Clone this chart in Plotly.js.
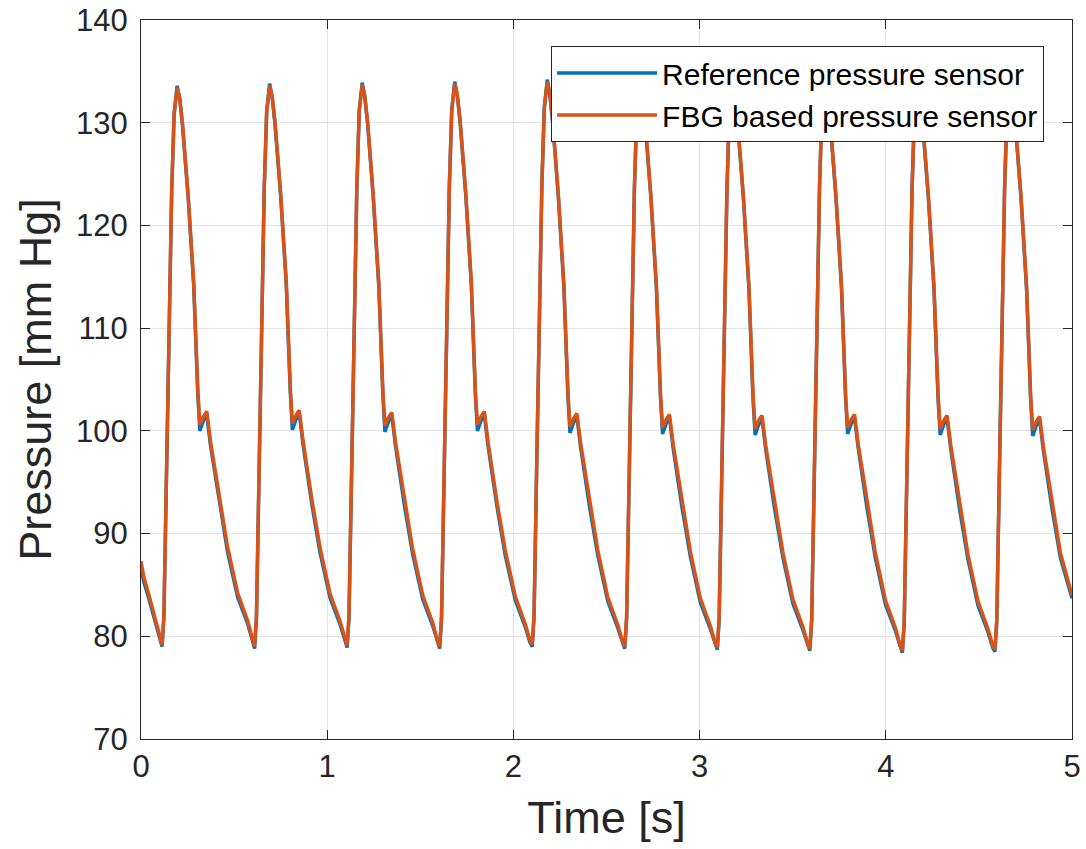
<!DOCTYPE html>
<html>
<head>
<meta charset="utf-8">
<script src="https://cdn.plot.ly/plotly-3.0.1.min.js"></script>
<style>html,body{margin:0;padding:0;background:#fff;}#chart{width:1086px;height:849px;}</style>
</head>
<body>
<div id="chart"></div>
<script>
// Time samples [s], per cycle
const tLead = [0, 0.015, 0.04, 0.07, 0.095];
const tC0 = [0.113,0.123,0.138,0.153,0.165,0.178,0.194,0.208,0.223,0.253,0.283,0.305,0.316,0.335,0.353,0.373,0.420,0.465,0.519,0.573,0.598];
const tC1 = [0.610,0.620,0.635,0.650,0.662,0.675,0.691,0.705,0.720,0.750,0.780,0.802,0.813,0.832,0.850,0.870,0.917,0.962,1.016,1.070,1.095];
const tC2 = [1.107,1.117,1.132,1.147,1.159,1.172,1.188,1.202,1.217,1.247,1.277,1.299,1.310,1.329,1.347,1.367,1.414,1.459,1.513,1.567,1.592];
const tC3 = [1.604,1.614,1.629,1.644,1.656,1.669,1.685,1.699,1.714,1.744,1.774,1.796,1.807,1.826,1.844,1.864,1.911,1.956,2.010,2.064,2.089];
const tC4 = [2.101,2.111,2.126,2.141,2.153,2.166,2.182,2.196,2.211,2.241,2.271,2.293,2.304,2.323,2.341,2.361,2.408,2.453,2.507,2.561,2.586];
const tC5 = [2.598,2.608,2.623,2.638,2.650,2.663,2.679,2.693,2.708,2.738,2.768,2.790,2.801,2.820,2.838,2.858,2.905,2.950,3.004,3.058,3.083];
const tC6 = [3.095,3.105,3.120,3.135,3.147,3.160,3.176,3.190,3.205,3.235,3.265,3.287,3.298,3.317,3.335,3.355,3.402,3.447,3.501,3.555,3.580];
const tC7 = [3.592,3.602,3.617,3.632,3.644,3.657,3.673,3.687,3.702,3.732,3.762,3.784,3.795,3.814,3.832,3.852,3.899,3.944,3.998,4.052,4.077];
const tC8 = [4.089,4.099,4.114,4.129,4.141,4.154,4.170,4.184,4.199,4.229,4.259,4.281,4.292,4.311,4.329,4.349,4.396,4.441,4.495,4.549,4.574];
const tC9 = [4.586,4.596,4.611,4.626,4.638,4.651,4.667,4.681,4.696,4.726,4.756,4.778,4.789,4.808,4.826,4.846,4.893,4.938,5.000];

// Reference pressure sensor [mm Hg]
const refLead = [86.6, 85.3, 83.8, 81.9, 80.1];
const refC0 = [79.0,81.8,97.0,113.0,123.5,130.9,133.6,132.3,129.7,122.8,114.2,103.6,100.0,101.0,101.6,98.6,93.0,88.2,83.8,81.2,79.6];
const refC1 = [78.8,81.7,97.3,113.3,123.7,131.1,133.8,132.4,129.8,122.9,114.3,103.7,100.1,101.1,101.7,98.7,92.9,88.1,83.7,81.1,79.5];
const refC2 = [78.9,81.8,97.1,113.2,123.6,131.2,133.9,132.5,129.9,122.8,114.1,103.5,99.9,100.9,101.5,98.5,92.8,88.0,83.6,81.0,79.4];
const refC3 = [78.8,81.7,97.2,113.4,123.8,131.3,134.0,132.6,130.0,123.0,114.2,103.4,100.0,101.0,101.6,98.5,92.7,87.9,83.5,80.9,79.4];
const refC4 = [79.0,81.9,97.5,113.7,124.0,131.5,134.2,132.7,130.0,122.9,114.0,103.3,99.8,100.8,101.4,98.4,92.7,87.9,83.4,80.8,79.3];
const refC5 = [78.8,81.7,97.2,113.3,123.7,131.3,134.0,132.5,129.8,122.8,113.9,103.2,99.7,100.7,101.3,98.3,92.6,87.8,83.3,80.7,79.2];
const refC6 = [78.7,81.6,97.0,113.1,123.6,131.2,133.9,132.4,129.7,122.7,113.8,103.1,99.6,100.6,101.2,98.2,92.5,87.7,83.2,80.6,79.1];
const refC7 = [78.6,81.5,97.2,113.3,123.7,131.3,134.0,132.5,129.8,122.8,113.9,103.2,99.7,100.7,101.3,98.3,92.5,87.6,83.1,80.5,78.9];
const refC8 = [78.4,81.3,96.9,113.0,123.5,131.1,133.8,132.3,129.6,122.6,113.7,103.0,99.6,100.6,101.2,98.2,92.4,87.5,83.0,80.4,78.9];
const refC9 = [78.5,81.4,97.1,113.2,123.6,131.2,133.9,132.4,129.7,122.7,113.8,103.0,99.5,100.5,101.1,98.1,92.4,87.6,83.7];

// FBG based pressure sensor [mm Hg]
const fbgLead = [87.3, 85.8, 84.2, 82.2, 80.4];
const fbgC0 = [79.2,82.0,97.0,113.0,123.5,130.8,133.4,132.4,129.9,123.0,114.5,104.0,100.6,101.4,101.9,99.0,93.5,88.7,84.2,81.5,79.8];
const fbgC1 = [79.0,81.9,97.3,113.3,123.7,131.0,133.6,132.5,130.0,123.1,114.6,104.1,100.7,101.5,102.0,99.1,93.4,88.6,84.1,81.4,79.7];
const fbgC2 = [79.1,82.0,97.1,113.2,123.6,131.1,133.7,132.6,130.1,123.0,114.4,103.9,100.5,101.3,101.8,98.9,93.3,88.5,84.0,81.3,79.6];
const fbgC3 = [79.0,81.9,97.2,113.4,123.8,131.2,133.8,132.7,130.2,123.2,114.5,103.8,100.6,101.4,101.9,98.9,93.2,88.4,83.9,81.2,79.6];
const fbgC4 = [79.2,82.1,97.5,113.7,124.0,131.4,134.0,132.8,130.2,123.1,114.3,103.7,100.4,101.2,101.7,98.8,93.2,88.4,83.8,81.1,79.5];
const fbgC5 = [79.0,81.9,97.2,113.3,123.7,131.2,133.8,132.6,130.0,123.0,114.2,103.6,100.3,101.1,101.6,98.7,93.1,88.3,83.7,81.0,79.4];
const fbgC6 = [78.9,81.8,97.0,113.1,123.6,131.1,133.7,132.5,129.9,122.9,114.1,103.5,100.2,101.0,101.5,98.6,93.0,88.2,83.6,80.9,79.3];
const fbgC7 = [78.8,81.7,97.2,113.3,123.7,131.2,133.8,132.6,130.0,123.0,114.2,103.6,100.3,101.1,101.6,98.7,93.0,88.1,83.5,80.8,79.1];
const fbgC8 = [78.6,81.5,96.9,113.0,123.5,131.0,133.6,132.4,129.8,122.8,114.0,103.4,100.2,101.0,101.5,98.6,92.9,88.0,83.4,80.7,79.1];
const fbgC9 = [78.7,81.6,97.1,113.2,123.6,131.1,133.7,132.5,129.9,122.9,114.1,103.4,100.1,100.9,101.4,98.5,92.9,88.1,84.0];

const xTickVals = [0, 1, 2, 3, 4, 5];
const yTickVals = [70, 80, 90, 100, 110, 120, 130, 140];

const time = [].concat(tLead, tC0, tC1, tC2, tC3, tC4, tC5, tC6, tC7, tC8, tC9);
const refP = [].concat(refLead, refC0, refC1, refC2, refC3, refC4, refC5, refC6, refC7, refC8, refC9);
const fbgP = [].concat(fbgLead, fbgC0, fbgC1, fbgC2, fbgC3, fbgC4, fbgC5, fbgC6, fbgC7, fbgC8, fbgC9);

const FONT = 'Liberation Sans, Arial, Helvetica, sans-serif';
const TXT = '#262626';

const traces = [
  {x: time, y: refP, type: 'scatter', mode: 'lines', name: 'Reference pressure sensor',
   line: {color: '#0072BD', width: 3.5}},
  {x: time, y: fbgP, type: 'scatter', mode: 'lines', name: 'FBG based pressure sensor',
   line: {color: '#D95319', width: 3.5}}
];

const axisCommon = {
  showline: true, linecolor: TXT, linewidth: 1, mirror: 'ticks',
  ticks: 'inside', ticklen: 9, tickwidth: 1, tickcolor: TXT,
  showgrid: true, gridcolor: '#e3e3e3', gridwidth: 1,
  zeroline: false, tickfont: {family: FONT, size: 31, color: TXT},
  automargin: false
};

const layout = {
  width: 1086, height: 849,
  margin: {l: 141, r: 14, t: 20, b: 110},
  paper_bgcolor: '#ffffff', plot_bgcolor: '#ffffff',
  font: {family: FONT, color: TXT},
  xaxis: Object.assign({}, axisCommon, {
    range: [0, 5], tickmode: 'array', tickvals: xTickVals,
    title: {text: 'Time [s]', font: {family: FONT, size: 45, color: TXT}, standoff: 18}
  }),
  yaxis: Object.assign({}, axisCommon, {
    range: [70, 140], tickmode: 'array', tickvals: yTickVals, ticklabelstandoff: 6,
    title: {text: 'Pressure [mm Hg]', font: {family: FONT, size: 45, color: TXT}, standoff: 10}
  }),
  legend: {
    x: 0.97, xanchor: 'right', y: 0.964, yanchor: 'top',
    bgcolor: '#ffffff', bordercolor: TXT, borderwidth: 1,
    font: {family: FONT, size: 30, color: '#000000'},
    itemwidth: 100, tracegroupgap: 0
  },
  showlegend: true
};

Plotly.newPlot('chart', traces, layout, {displayModeBar: false, staticPlot: true});
</script>
</body>
</html>
